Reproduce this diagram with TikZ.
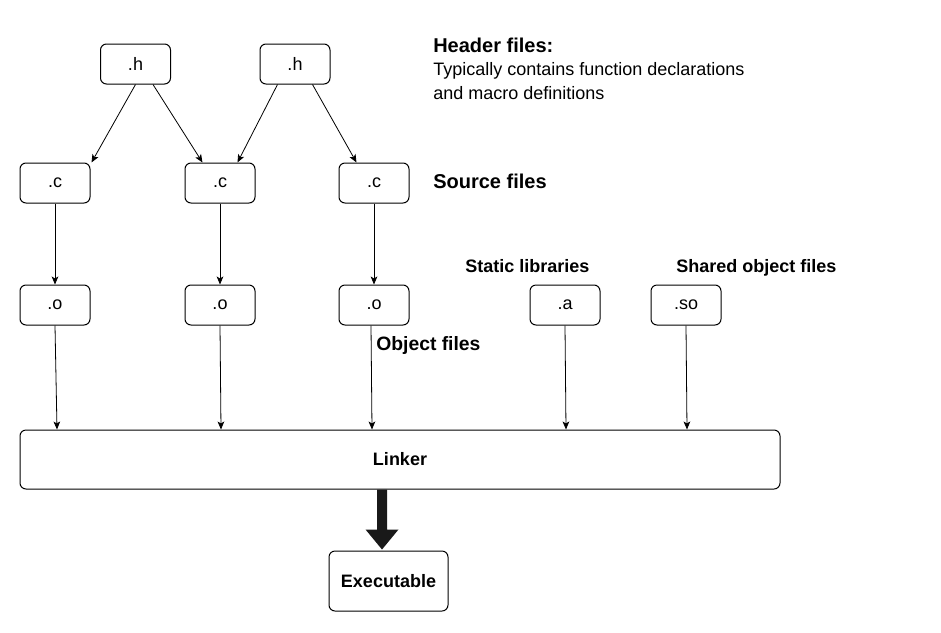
\documentclass[tikz,border=0pt]{standalone}
\usepackage{fontspec}
\setmainfont{Liberation Sans}
\usetikzlibrary{arrows.meta,calc}
\begin{document}
\begin{tikzpicture}[x=0.75pt,y=-0.75pt,
  filebox/.style={draw,line width=0.75pt,rounded corners=4.5pt,minimum width=52.5pt,minimum height=30pt,inner sep=0pt,font=\fontsize{13.5}{16}\selectfont},
  bigbox/.style={draw,line width=0.75pt,rounded corners=4.5pt,inner sep=0pt,font=\fontsize{13.5}{16}\selectfont\bfseries},
  conn/.style={line width=0.6pt,-{Stealth[length=6pt,width=5pt,inset=1.5pt]}},
  lbl/.style={anchor=base west,inner sep=0pt}
]
\useasboundingbox[fill=white] (0,0) rectangle (941,632);

% header files
\node[filebox] (h1) at (135.5,64) {.h};
\node[filebox] (h2) at (295,64) {.h};
% source files
\node[filebox] (c1) at (55,183) {.c};
\node[filebox] (c2) at (220,183) {.c};
\node[filebox] (c3) at (374,183) {.c};
% object files
\node[filebox] (o1) at (55,305) {.o};
\node[filebox] (o2) at (220,305) {.o};
\node[filebox] (o3) at (374,305) {.o};
\node[filebox] (a) at (565,305) {.a};
\node[filebox] (so) at (686,305) {.so};
% linker and executable
\node[bigbox,minimum width=570pt,minimum height=44.25pt] (linker) at (400,459.5) {Linker};
\node[bigbox,minimum width=89.25pt,minimum height=45pt] (exe) at (388.5,581) {Executable};

% labels
\node[lbl,font=\fontsize{15}{18}\selectfont\bfseries] (thdr) at (433,52) {Header files:};
\node[lbl,font=\fontsize{13.5}{16}\selectfont] (td1) at (433,75.5) {Typically contains function declarations};
\node[lbl,font=\fontsize{13.5}{16}\selectfont] (td2) at (433,99.5) {and macro definitions};
\node[lbl,font=\fontsize{15}{18}\selectfont\bfseries] (tsrc) at (433,188) {Source files};
\node[lbl,font=\fontsize{13.5}{16}\selectfont\bfseries] (tsta) at (465,272.5) {Static libraries};
\node[lbl,font=\fontsize{13.5}{16}\selectfont\bfseries] (tsha) at (676,272.5) {Shared object files};
\node[lbl,font=\fontsize{14.5}{17}\selectfont\bfseries] (tobj) at (376,350.5) {Object files};

% header -> source
\draw[conn] (h1.south) -- ($(c1.north east)+(1,0)$);
\draw[conn] ($(h1.south)+(17.5,0)$) -- ($(c2.north)+(-17.5,0)$);
\draw[conn] ($(h2.south)+(-17.5,0)$) -- ($(c2.north)+(17.5,0)$);
\draw[conn] ($(h2.south)+(17.5,0)$) -- ($(c3.north)+(-17.5,0)$);
% source -> object
\draw[conn] (c1.south) -- (o1.north);
\draw[conn] (c2.south) -- (o2.north);
\draw[conn] (c3.south) -- (o3.north);
% objects -> linker
\draw[conn] (o1.south) -- ($(o1.south |- linker.north)+(2,0)$);
\draw[conn] (o2.south) -- ($(o2.south |- linker.north)+(1,0)$);
\draw[conn] ($(o3.south)+(-3,0)$) -- ($(o3.south |- linker.north)+(-2,0)$);
\draw[conn] (a.south) -- ($(a.south |- linker.north)+(1,0)$);
\draw[conn] (so.south) -- ($(so.south |- linker.north)+(1,0)$);

% thick arrow linker -> executable
\coordinate (ta) at ($(linker.south)+(-18,0)$);
\coordinate (tb) at ($(exe.north)+(-6.5,0)$);
\fill[black!90] ($(ta)+(-5,0)$) -- ($(ta)+(5,0)$) -- ($(tb)+(5,-21)$) -- ($(tb)+(16.5,-21)$) -- ($(tb)+(0,-1)$) -- ($(tb)+(-16.5,-21)$) -- ($(tb)+(-5,-21)$) -- cycle;
\end{tikzpicture}
\end{document}
